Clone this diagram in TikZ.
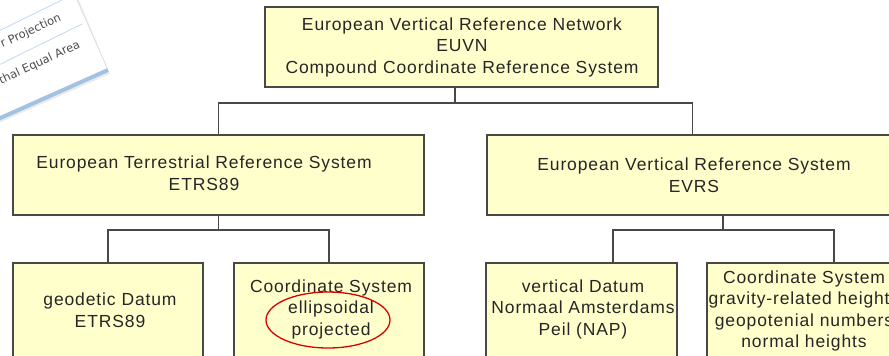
\documentclass[tikz,border=0pt]{standalone}
\usepackage{fontspec}
\setmainfont{Liberation Sans}[LetterSpace=5]
\newfontfamily\cardfont{DejaVu Sans}
\usetikzlibrary{shapes.geometric, positioning}
\definecolor{boxfill}{HTML}{FFFFCC}
\definecolor{boxline}{HTML}{484848}
\definecolor{cardblue}{HTML}{A2C2E2}
\definecolor{cardline}{HTML}{C4D8EE}
\tikzset{
	block/.style={draw=boxline, fill=boxfill, line width=1.3pt},
	link/.style={draw=boxline, line width=1.3pt},
	boxtext/.style={align=center, inner sep=0pt, text=black!85, font=\fontsize{17.5}{21.5}\selectfont},
	cardtext/.style={rotate=25, inner sep=0pt, text=black!70, font=\cardfont\fontsize{11.5}{13}\selectfont},
	highlight/.style={draw=red!85!black, line width=1.3pt}
}

\begin{document}
\begin{tikzpicture}[x=1pt, y=-1pt]
		\useasboundingbox (0,0) rectangle (889,356);
		\clip (0,0) rectangle (889,356);
		
		% window in the background, top left
		\fill[black!8] (-40,140) -- (110,74) -- (72,-16) -- (-40,-16) -- cycle;
		\fill[white] (-40,136) -- (108,70) -- (70,-16) -- (-40,-16) -- cycle;
		\draw[black!15, line width=0.6pt] (108,70) -- (70,-16);
		\draw[cardline, line width=0.8pt] (-40,50) -- (62,0);
		\draw[cardline, line width=0.8pt] (-40,84) -- (82,24);
		\draw[cardblue, line width=4pt] (-40,136) -- (108,70);
		\node[cardtext, anchor=base east] (card-proj) at (62,20) {r Projection};
		\node[cardtext, anchor=base east] (card-area) at (81,47) {thal Equal Area};
		
		\node[block, minimum width=393, minimum height=80] (euvn) at (461.5,47) {};
		\node[boxtext] (euvn-txt) at (462,47) {European\,\,Vertical Reference Network \\ EUVN \\ Compound\,\,Coordinate Reference System};
		
		\node[block, minimum width=411, minimum height=80] (etrs) at (218.5,175) {};
		\node[boxtext] (etrs-txt) at (204,173) {European Terrestrial Reference System \\ ETRS89};
		
		\node[block, minimum width=411, minimum height=80] (evrs) at (692.5,175) {};
		\node[boxtext] (evrs-txt) at (694,175) {European\,\,Vertical Reference System \\ EVRS};
		
		\node[block, minimum width=190, minimum height=117] (geodatum) at (108,321.5) {};
		\node[boxtext] (geodatum-txt) at (110,310) {geodetic\,\,Datum \\ ETRS89};
		
		\node[block, minimum width=190, minimum height=117] (etrscs) at (329,321.5) {};
		\node[boxtext] (etrscs-txt) at (331,309) {Coordinate System \\ ellipsoidal \\ projected};
		
		\node[block, minimum width=191, minimum height=117] (vdatum) at (581.5,321.5) {};
		\node[boxtext] (vdatum-txt) at (583,309) {vertical Datum \\ Normaal Amsterdams \\ Peil (NAP)};
		
		\node[block, minimum width=254, minimum height=117] (evrscs) at (834,321.5) {};
		\node[boxtext] (evrscs-txt) at (804,311) {Coordinate System \\ gravity-related heights \\ geopotenial numbers \\ normal heights};
		
		\node[highlight, ellipse, minimum width=124, minimum height=56] (circled) at (328,320) {};
		
		\coordinate (euvn-split) at (455,103);
		\coordinate (etrs-split) at (218.5,230);
		\coordinate (evrs-split) at (723,230);
		\coordinate (vdatum-top) at (613,263);
		
		\draw[link] (euvn.south -| euvn-split) -- (euvn-split);
		\draw[link] (etrs.north) |- (euvn-split) -| (evrs.north);
		\draw[link] (etrs.south) -- (etrs-split);
		\draw[link] (geodatum.north) |- (etrs-split) -| (etrscs.north);
		\draw[link] (evrs.south -| evrs-split) -- (evrs-split);
		\draw[link] (vdatum-top) |- (evrs-split) -| (evrscs.north);
	\end{tikzpicture}
\end{document}
